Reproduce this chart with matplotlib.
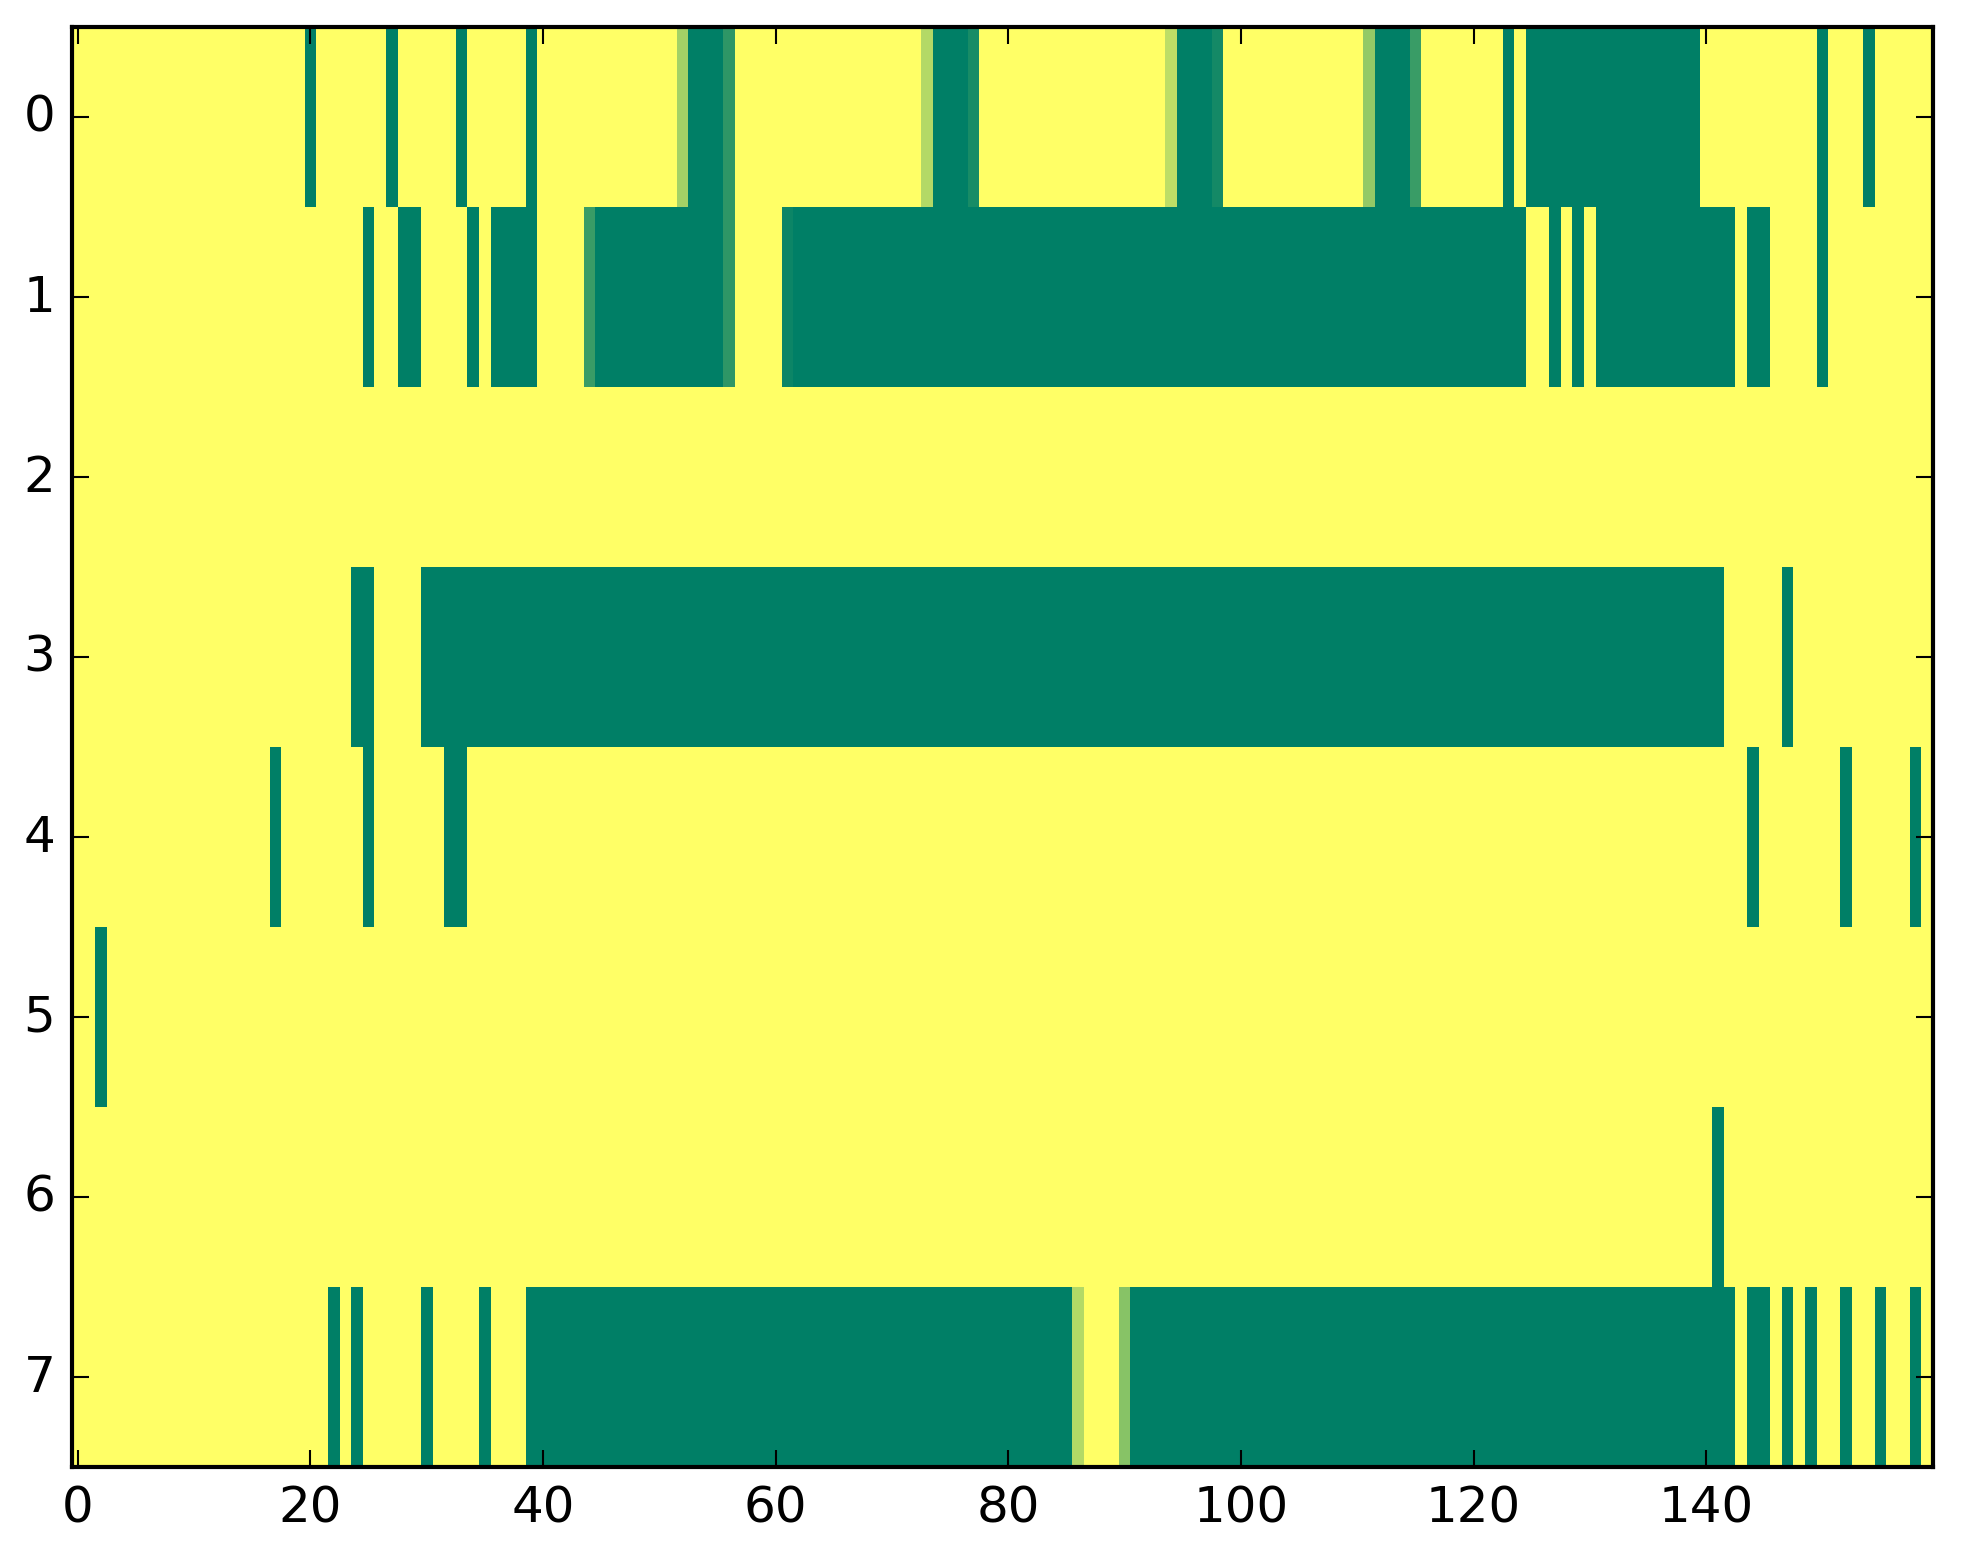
import matplotlib
matplotlib.use('Agg')
import matplotlib.pyplot as plt
import numpy as np

plt.style.use('classic')

n_rows = 8
n_cols = 160

# runs of "on" cells (value 1) per row, inclusive (start, end)
row0_runs = [(20, 20), (27, 27), (33, 33), (39, 39), (53, 55), (74, 76), (95, 97),
             (112, 114), (123, 123), (125, 139), (150, 150), (154, 154)]
row1_runs = [(25, 25), (28, 29), (34, 34), (36, 39), (45, 55), (62, 124), (127, 127),
             (129, 129), (131, 142), (144, 145), (150, 150)]
row2_runs = []
row3_runs = [(24, 25), (30, 141), (147, 147)]
row4_runs = [(17, 17), (25, 25), (32, 33), (144, 144), (152, 152), (158, 158)]
row5_runs = [(2, 2)]
row6_runs = [(141, 141)]
row7_runs = [(22, 22), (24, 24), (30, 30), (35, 35), (39, 85), (91, 142), (144, 145),
             (147, 147), (149, 149), (152, 152), (155, 155), (158, 158)]

# partial cells: (row, col) -> value
partial_cells = {
    (0, 52): 0.36, (0, 56): 0.82, (0, 73): 0.30, (0, 77): 0.90,
    (0, 94): 0.26, (0, 98): 0.92, (0, 111): 0.42, (0, 115): 0.77,
    (1, 44): 0.77, (1, 56): 0.82, (1, 61): 0.95,
    (7, 86): 0.30, (7, 90): 0.47,
}

all_runs = [row0_runs, row1_runs, row2_runs, row3_runs,
            row4_runs, row5_runs, row6_runs, row7_runs]

grid = np.zeros((n_rows, n_cols))
for r, runs in enumerate(all_runs):
    for a, b in runs:
        grid[r, a:b + 1] = 1.0
for (r, c), v in partial_cells.items():
    grid[r, c] = v

fig = plt.figure(figsize=(1963 / 300, 1564 / 300), dpi=300, facecolor='white')
ax = fig.add_axes([0.0367, 0.0614, 0.9480, 0.9207])
ax.imshow(grid, cmap='summer_r', vmin=0, vmax=1, aspect='auto',
          interpolation='nearest')

ax.set_xticks(np.arange(0, 160, 20))
ax.set_yticks(np.arange(0, 8, 1))
ax.set_xlim(-0.5, n_cols - 0.5)
ax.set_ylim(n_rows - 0.5, -0.5)
ax.tick_params(direction='in', top=True, right=True, labelsize=12)

fig.savefig('out.png', dpi=300, facecolor='white')
